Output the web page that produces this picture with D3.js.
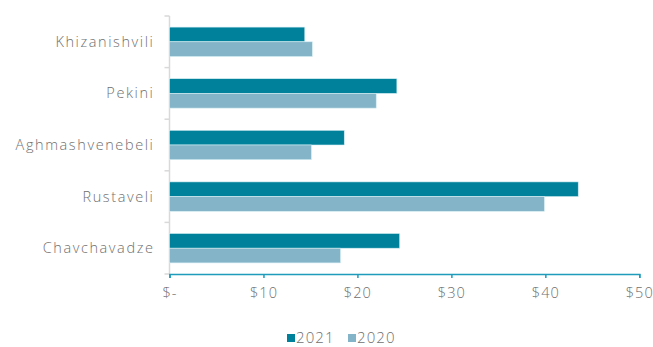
<!DOCTYPE html>
<html>
<head>
<meta charset="utf-8">
<script src="https://cdn.jsdelivr.net/npm/d3@7"></script>
<style>
  body { margin: 0; background: #fff; }
  svg text { font-family: "Open Sans", sans-serif; font-weight: 300; fill: #6f6f6f; letter-spacing: 1.1px; }
</style>
</head>
<body>
<svg id="chart" width="653" height="347"></svg>
<script>
const categories = ["Khizanishvili", "Pekini", "Aghmashvenebeli", "Rustaveli", "Chavchavadze"];
const series = ["2021", "2020"];
const values2021 = [14.4, 24.2, 18.6, 43.5, 24.5];
const values2020 = [15.2, 22.0, 15.1, 39.9, 18.2];
const xTicks = [0, 10, 20, 30, 40, 50];

const colors = { "2021": "#00819b", "2020": "#84b4c8" };

const margin = { top: 16, right: 14, bottom: 73, left: 169.5 };
const width = 653 - margin.left - margin.right;
const height = 347 - margin.top - margin.bottom;

const svg = d3.select("#chart")
  .append("g")
  .attr("transform", `translate(${margin.left},${margin.top})`);

const x = d3.scaleLinear().domain([0, 50]).range([0, 469.8]);
const y = d3.scaleBand().domain(categories).range([0, height]).paddingInner(0.43).paddingOuter(0.215);
const ySub = d3.scaleBand().domain(series).range([0, y.bandwidth()]);

// category axis (light grey with boundary ticks)
const yAxisG = svg.append("g");
yAxisG.append("line")
  .attr("x1", 0).attr("x2", 0).attr("y1", 0).attr("y2", height)
  .attr("stroke", "#d9d9d9").attr("stroke-width", 1.5);
d3.range(categories.length + 1).forEach(i => {
  const yy = i * height / categories.length;
  yAxisG.append("line")
    .attr("x1", -5).attr("x2", 0).attr("y1", yy).attr("y2", yy)
    .attr("stroke", "#d9d9d9").attr("stroke-width", 1.5);
});
yAxisG.selectAll(".cat")
  .data(categories)
  .enter()
  .append("text")
  .attr("x", -15)
  .attr("y", d => y(d) + y.bandwidth() / 2)
  .attr("dy", "0.35em")
  .attr("text-anchor", "end")
  .style("font-size", "14.5px")
  .style("letter-spacing", "1.6px")
  .text(d => d);

// bars
const rows = categories.map((c, i) => ({ cat: c, vals: [
  { s: "2021", v: values2021[i] },
  { s: "2020", v: values2020[i] }
] }));

svg.selectAll(".grp")
  .data(rows)
  .enter()
  .append("g")
  .attr("transform", d => `translate(0,${y(d.cat)})`)
  .selectAll("rect")
  .data(d => d.vals)
  .enter()
  .append("rect")
  .attr("x", 0)
  .attr("y", d => ySub(d.s))
  .attr("width", d => x(d.v))
  .attr("height", ySub.bandwidth())
  .attr("fill", d => colors[d.s])
  .attr("stroke", "#d4eef3")
  .attr("stroke-width", 0.6);

// value axis
const xAxis = d3.axisBottom(x)
  .tickValues(xTicks)
  .tickSize(4)
  .tickPadding(10)
  .tickFormat(d => d === 0 ? "$-" : "$" + d);

const xg = svg.append("g")
  .attr("transform", `translate(0,${height})`)
  .call(xAxis);
xg.select(".domain").attr("stroke", "#1f9bbb").attr("stroke-width", 1.5);
xg.selectAll(".tick line").attr("stroke", "#1f9bbb").attr("stroke-width", 1.5);
xg.selectAll(".tick text")
  .style("font-size", "14.5px")
  .style("font-family", "Open Sans, sans-serif")
  .style("font-weight", 300)
  .attr("fill", "#6f6f6f");

// legend
const legend = d3.select("#chart").append("g").attr("transform", "translate(287,338)");
series.forEach((s, i) => {
  const lx = i * 61;
  legend.append("rect")
    .attr("x", lx).attr("y", -4).attr("width", 8).attr("height", 8)
    .attr("fill", colors[s]);
  legend.append("text")
    .attr("x", lx + 9).attr("y", 0).attr("dy", "0.35em")
    .style("font-size", "15px")
    .text(s);
});
</script>
</body>
</html>
